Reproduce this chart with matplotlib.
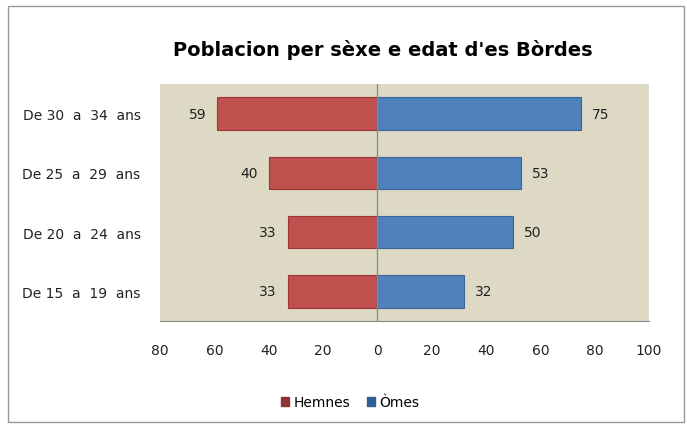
import matplotlib.pyplot as plt
from matplotlib.patches import Rectangle
from matplotlib.ticker import FuncFormatter
import numpy as np

categories = ['De 15  a  19  ans', 'De 20  a  24  ans', 'De 25  a  29  ans', 'De 30  a  34  ans']
hemnes = [33, 33, 40, 59]
omes = [32, 50, 53, 75]

red = '#C0504D'
blue = '#4F81BD'

fig = plt.figure(figsize=(6.87, 4.27), dpi=100)
ax = fig.add_axes([160/687, 1 - 322/427, (649-160)/687, (322-85)/427])
ax.set_facecolor('#DDD9C4')

y = np.arange(len(categories))
h = 0.55
ax.barh(y, [-v for v in hemnes], h, color=red, edgecolor='#9A3633', linewidth=0.8)
ax.barh(y, omes, h, color=blue, edgecolor='#3A6698', linewidth=0.8)

for yi, v in zip(y, hemnes):
    ax.text(-v - 4, yi, str(v), ha='right', va='center', fontsize=10, color='#222222')
for yi, v in zip(y, omes):
    ax.text(v + 4, yi, str(v), ha='left', va='center', fontsize=10, color='#222222')

ax.axvline(0, color='#888888', linewidth=0.9)
ax.set_xlim(-80, 100)
ax.set_ylim(-0.5, 3.5)
ax.set_xticks(range(-80, 101, 20))
ax.xaxis.set_major_formatter(FuncFormatter(lambda v, p: f'{abs(int(v))}'))
ax.set_yticks(y)
ax.set_yticklabels(categories)
ax.tick_params(axis='both', length=0, labelsize=10, colors='#222222')
ax.tick_params(axis='x', pad=16)
ax.tick_params(axis='y', pad=14)
for s in ['top', 'right', 'left']:
    ax.spines[s].set_visible(False)
ax.spines['bottom'].set_color('#888888')

fig.text(383/687, 1 - 50/427, "Poblacion per sèxe e edat d'es Bòrdes",
         ha='center', va='center', fontsize=14, fontweight='bold')

handles = [Rectangle((0, 0), 1, 1, color='#8E3431'), Rectangle((0, 0), 1, 1, color='#2F5F93')]
fig.legend(handles, ['Hemnes', 'Òmes'], loc='center', bbox_to_anchor=(350/687, 1 - 403/427),
           ncol=2, frameon=False, fontsize=10, handlelength=0.6, handleheight=0.6,
           handletextpad=0.3, columnspacing=1.2)

fig.patches.append(Rectangle((8/687, 4/427), 676/687, 416/427, transform=fig.transFigure,
                             fill=False, edgecolor='#999999', linewidth=1))

fig.savefig('out.png', dpi=100)
